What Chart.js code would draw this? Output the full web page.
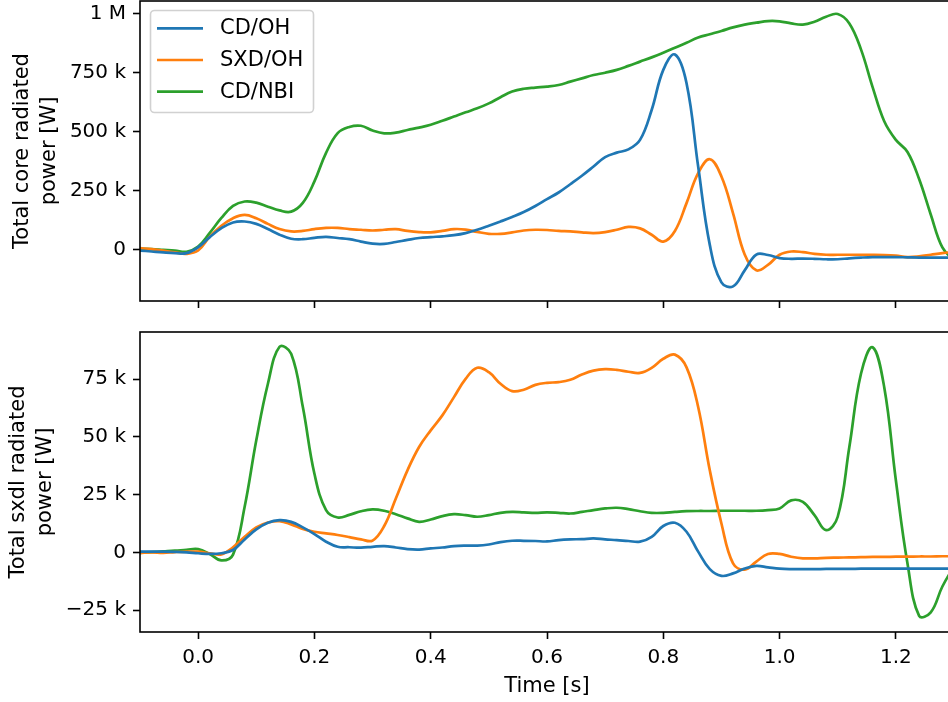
<!DOCTYPE html>
<html>
<head>
<meta charset="utf-8">
<script src="https://cdn.jsdelivr.net/npm/chart.js@4.4.0/dist/chart.umd.min.js"></script>
<style>
  html, body { margin: 0; padding: 0; background: #fff; overflow: hidden; width: 948px; height: 702px; }
  .panel { position: absolute; left: 0; width: 960px; }
  #wrapCore { top: 0; height: 311px; }
  #wrapSxdl { top: 320px; height: 382px; }
  canvas { display: block; }
</style>
</head>
<body>
<div id="wrapCore" class="panel"><canvas id="coreChart" width="960" height="311"></canvas></div>
<div id="wrapSxdl" class="panel"><canvas id="sxdlChart" width="960" height="382"></canvas></div>
<script>
// Time base [s]
const times = [-0.10,-0.08,-0.06,-0.04,-0.02,0.00,0.02,0.04,0.06,0.08,
  0.10,0.12,0.14,0.16,0.18,0.20,0.22,0.24,0.26,0.28,
  0.30,0.32,0.34,0.36,0.38,0.40,0.42,0.44,0.46,0.48,
  0.50,0.52,0.54,0.56,0.58,0.60,0.62,0.64,0.66,0.68,
  0.70,0.72,0.74,0.76,0.78,0.80,0.82,0.84,0.86,0.88,
  0.90,0.92,0.94,0.96,0.98,1.00,1.02,1.04,1.06,1.08,
  1.10,1.12,1.14,1.16,1.18,1.20,1.22,1.24,1.26,1.28,1.30];

const seriesNames = ['CD/OH', 'SXD/OH', 'CD/NBI'];

// Total core radiated power [kW]
const coreCdOh = [-3,-7,-11,-14,-14, 11,54,92,116,120,
  110,88,64,47,45, 51,55,50,45,35,
  26,25,33,42,50, 54,57,62,71,85,
  102,120,139,160,186, 215,243,278,314,353,
  393,412,426,466,593, 763,828,706,353,21,
  -138,-155,-87,-20,-22, -35,-38,-37,-38,-40,
  -40,-36,-33,-31,-31, -31,-32,-33,-33,-33, -33];
const coreSxdOh = [7,3,-3,-11,-17, -3,56,102,134,148,
  134,110,88,78,80, 88,93,93,88,85,
  82,85,88,80,75, 74,80,88,86,76,
  68,68,74,82,85, 84,80,78,74,71,
  75,85,97,91,64, 35,80,198,325,384,
  311,155,-20,-87,-64, -21,-7,-10,-17,-21,
  -21,-21,-21,-21,-22, -25,-31,-28,-21,-14, -8];
const coreCdNbi = [4,3,0,-3,-8, 14,72,135,186,205,
  200,183,167,162,199, 290,411,495,521,526,
  506,494,497,508,518, 530,547,565,583,600,
  621,647,671,683,688, 692,699,713,727,741,
  751,763,780,798,816, 836,857,878,900,914,
  928,943,955,963,970, 969,960,955,967,988,
  1000,960,850,690,545, 466,415,300,150,10, -45];

// Total sxdl radiated power [kW]
const sxdlCdOh = [0.3,0.3,0.3,0.2,0, -0.4,-0.7,-0.4,1,5.6,
  9.9,12.8,13.9,13.2,10.8, 7.9,4.6,2.4,2.2,2,
  2.4,2.7,2.1,1.4,1.2, 1.7,2.1,2.7,2.9,2.9,
  3.4,4.4,5,5,4.9, 4.7,5.3,5.6,5.7,6,
  5.6,5.3,4.9,4.6,6.7, 11.4,12.8,8.9,0.3,-7.3,
  -10.2,-9.1,-7,-5.9,-6.5, -7.1,-7.3,-7.3,-7.3,-7.2,
  -7.2,-7.2,-7.1,-7.1,-7.1, -7.1,-7.1,-7.1,-7.1,-7.1, -7.1];
const sxdlSxdOh = [-0.2,0,-0.2,0.1,0.3, 0.3,-0.4,-0.9,2.2,6.7,
  10.8,12.9,13.5,12.1,10.1, 8.9,8.2,7.5,6.6,5.6,
  5.1,11.4,23.3,35.5,45.6, 52.8,59.3,67.2,75.1,79.9,
  78,73,69.8,70.4,72.5, 73.4,73.7,74.7,77,78.7,
  79.3,79,78.2,77.7,79.9, 83.8,85.6,80.1,62.9,35.5,
  12.5,-4.8,-7.5,-4,-0.7, -0.7,-1.9,-2.6,-2.6,-2.4,
  -2.3,-2.2,-2.1,-2,-2, -1.9,-1.9,-1.8,-1.8,-1.7, -1.7];
const sxdlCdNbi = [-0.2,0.1,0.4,0.7,1.1, 1.4,-0.7,-3.5,-1,19.7,
  48.5,73,89,86,63, 34,18.3,15.1,16.2,17.8,
  18.6,18,16.5,14.7,13.2, 14.2,15.7,16.5,16.1,15.4,
  16.1,17.1,17.5,17.3,17.1, 17.3,17.1,16.8,17.5,18.3,
  19,19.3,18.7,17.8,17.1, 17.1,17.5,17.8,17.9,17.9,
  18,18,18,18,18.3, 19,22.5,21.8,16.1,9.6,
  15.4,45.6,77.3,88.8,71.5, 31.2,-4.8,-27.5,-26,-14.8, -6];

// Tick positions and labels
const xTickValues = [0.0, 0.2, 0.4, 0.6, 0.8, 1.0, 1.2];
const xTickLabels = ['0.0', '0.2', '0.4', '0.6', '0.8', '1.0', '1.2'];
const coreTickValues = [0, 250, 500, 750, 1000];
const coreTickLabels = ['0', '250 k', '500 k', '750 k', '1 M'];
const sxdlTickValues = [-25, 0, 25, 50, 75];
const sxdlTickLabels = ['\u221225 k', '0', '25 k', '50 k', '75 k'];

const colors = ['#1f77b4', '#ff7f0e', '#2ca02c'];
const FONT = 'DejaVu Sans';
const TICK_SIZE = 20;
const LABEL_SIZE = 21;
Chart.defaults.font.family = FONT;
Chart.defaults.color = '#000';

// Full box around the plotting area
const framePlugin = {
  id: 'frame',
  afterDatasetsDraw(chart) {
    const a = chart.chartArea, ctx = chart.ctx;
    ctx.save();
    ctx.strokeStyle = '#000';
    ctx.lineWidth = 1.6;
    ctx.strokeRect(a.left, a.top, a.right - a.left, a.bottom - a.top);
    ctx.restore();
  }
};

// Framed legend in the upper-left corner of the core panel
const boxLegendPlugin = {
  id: 'boxLegend',
  afterDraw(chart, args, opts) {
    if (!opts || !opts.show) return;
    const ctx = chart.ctx;
    const x = 150.5, y = 10.5, w = 163, h = 102, r = 4;
    ctx.save();
    ctx.beginPath();
    ctx.moveTo(x + r, y);
    ctx.arcTo(x + w, y, x + w, y + h, r);
    ctx.arcTo(x + w, y + h, x, y + h, r);
    ctx.arcTo(x, y + h, x, y, r);
    ctx.arcTo(x, y, x + w, y, r);
    ctx.closePath();
    ctx.fillStyle = 'rgba(255,255,255,0.8)';
    ctx.fill();
    ctx.strokeStyle = 'rgba(204,204,204,0.9)';
    ctx.lineWidth = 1.6;
    ctx.stroke();
    const rows = [28.3, 60, 91.7];
    chart.data.datasets.forEach((ds, i) => {
      ctx.beginPath();
      ctx.strokeStyle = ds.borderColor;
      ctx.lineWidth = 2.7;
      ctx.moveTo(157, rows[i]);
      ctx.lineTo(203, rows[i]);
      ctx.stroke();
      ctx.fillStyle = '#000';
      ctx.font = LABEL_SIZE + 'px "' + FONT + '"';
      ctx.textBaseline = 'middle';
      ctx.textAlign = 'left';
      ctx.fillText(ds.label, 220, rows[i] + 0.5);
    });
    ctx.restore();
  }
};

function makePanel(canvasId, values, yMin, yMax, yTickValues, yTickLabels, yTitle, yTitlePad, opts) {
  const datasets = values.map((arr, i) => ({
    label: seriesNames[i],
    data: times.map((t, k) => ({ x: t, y: arr[k] })),
    borderColor: colors[i],
    backgroundColor: colors[i],
    borderWidth: 2.7,
    pointRadius: 0,
    fill: false,
    tension: 0.4,
    clip: 0
  }));
  const tickGrid = {
    display: true, drawOnChartArea: false, drawTicks: true,
    tickLength: 7, tickWidth: 1.6, tickColor: '#000'
  };
  return new Chart(document.getElementById(canvasId), {
    type: 'line',
    data: { datasets },
    plugins: [framePlugin, boxLegendPlugin],
    options: {
      responsive: false,
      animation: false,
      events: [],
      layout: { padding: { top: opts.padTop, right: 6, bottom: 0, left: 0 } },
      plugins: {
        legend: { display: false },
        tooltip: { enabled: false },
        boxLegend: { show: opts.legend }
      },
      scales: {
        x: {
          type: 'linear',
          bounds: 'data',
          min: -0.1,
          max: 1.3,
          afterBuildTicks: s => { s.ticks = xTickValues.map(v => ({ value: v })); },
          ticks: {
            display: opts.showXLabels,
            autoSkip: false,
            maxRotation: 0,
            padding: 7,
            color: '#000',
            font: { size: TICK_SIZE },
            callback: (v, i) => xTickLabels[i]
          },
          grid: tickGrid,
          border: { display: false },
          title: opts.showXLabels
            ? { display: true, text: 'Time [s]', color: '#000', font: { size: LABEL_SIZE, lineHeight: 1.2 }, padding: { top: 0, bottom: 2.4 } }
            : { display: false },
          afterFit: s => { s.height = opts.xAxisHeight; s.paddingLeft = 0; s.paddingRight = 0; }
        },
        y: {
          type: 'linear',
          bounds: 'data',
          min: yMin,
          max: yMax,
          afterBuildTicks: s => { s.ticks = yTickValues.map(v => ({ value: v })); },
          ticks: {
            padding: 7,
            color: '#000',
            font: { size: TICK_SIZE },
            callback: (v, i) => yTickLabels[i]
          },
          grid: tickGrid,
          border: { display: false },
          title: {
            display: true, text: yTitle, color: '#000',
            font: { size: LABEL_SIZE, lineHeight: 1.3 },
            padding: { top: yTitlePad, bottom: 0 }
          },
          afterFit: s => { s.width = 140; s.paddingTop = 0; s.paddingBottom = 0; }
        }
      }
    }
  });
}

makePanel('coreChart', [coreCdOh, coreSxdOh, coreCdNbi], -217, 1055,
  coreTickValues, coreTickLabels, ['Total core radiated', 'power [W]'], 9,
  { padTop: 1, xAxisHeight: 10, showXLabels: false, legend: true });

makePanel('sxdlChart', [sxdlCdOh, sxdlSxdOh, sxdlCdNbi], -34.5, 95.4,
  sxdlTickValues, sxdlTickLabels, ['Total sxdl radiated', 'power [W]'], 4.6,
  { padTop: 12, xAxisHeight: 70, showXLabels: true, legend: false });
</script>
</body>
</html>
